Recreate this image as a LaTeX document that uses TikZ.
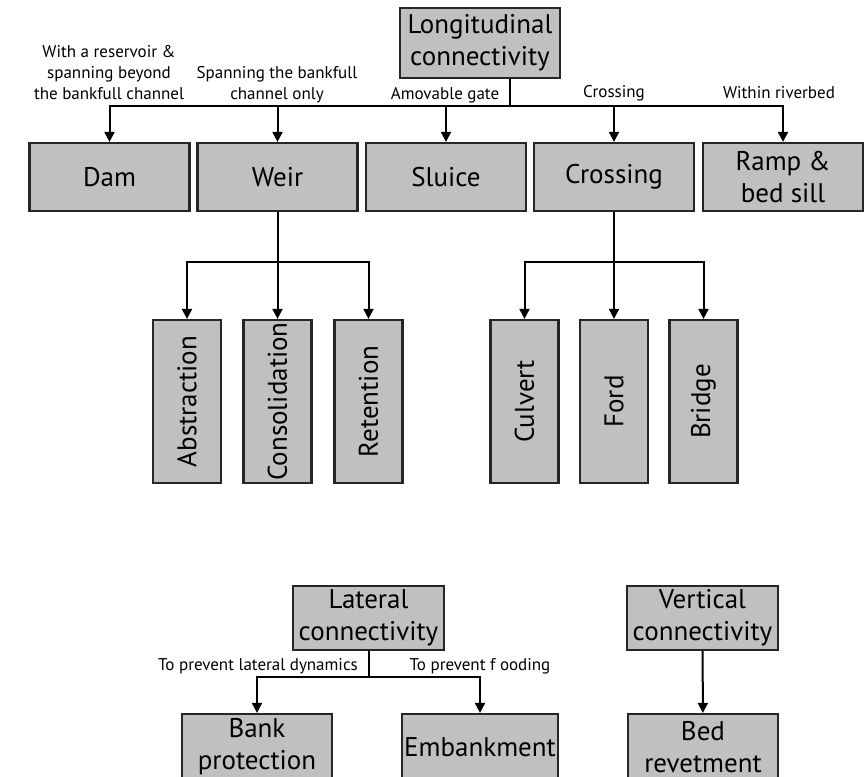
\documentclass[tikz,border=0pt]{standalone}
\usepackage{fontspec}
\setmainfont{PT Sans}
\usepackage{xcolor}
\usetikzlibrary{arrows.meta}

\definecolor{boxgray}{RGB}{192,192,192}

\tikzset{
	box/.style={draw=black!85, fill=boxgray, line width=1.1pt, inner sep=1pt, align=center, font=\fontsize{13.5}{16}\selectfont},
	wide/.style={box, minimum width=160*0.5pt, minimum height=68*0.5pt},
	tall/.style={box, minimum width=68*0.5pt, minimum height=163*0.5pt},
	lbl/.style={align=center, inner sep=0pt, font=\fontsize{8.5}{10.5}\selectfont},
	stem/.style={line width=1pt},
	arr/.style={stem, -{Triangle[length=5pt,width=5pt]}},
}

\begin{document}
\begin{tikzpicture}[x=0.5pt, y=-0.5pt]

			\useasboundingbox (0,0) rectangle (864,777);
			\clip (0,0) rectangle (864,777);

			\node[box, minimum width=80pt, minimum height=35pt] (longi) at (480,43) {Longitudinal\\connectivity};

			\foreach \name/\x/\txt in {dam/109.5/Dam, weir/277.5/Weir, sluice/446/Sluice, crossing/614/Crossing, ramp/783/{Ramp \&\\bed sill}} {
			    \node[wide] (\name) at (\x,177) {\txt};
			}

			\foreach \name/\x/\txt in {abstr/187/Abstraction, consol/277.5/Consolidation, reten/368.5/Retention, culvert/524.5/Culvert, ford/614/Ford, bridge/703.5/Bridge} {
			    \node[tall] (\name) at (\x,401.5) {\rotatebox{90}{\txt}};
			}

			\coordinate (lsplit) at (510,106);
			\draw[stem] (longi.south -| lsplit) -- (lsplit);
			\foreach \name in {dam,weir,sluice,crossing,ramp} {
			    \draw[arr] (lsplit) -| (\name);
			}

			\coordinate (wsplit) at (277.5,262);
			\draw[stem] (weir) -- (wsplit);
			\foreach \name in {abstr,consol,reten} {
			    \draw[arr] (wsplit) -| (\name);
			}

			\coordinate (csplit) at (614,262);
			\draw[stem] (crossing) -- (csplit);
			\foreach \name in {culvert,ford,bridge} {
			    \draw[arr] (csplit) -| (\name);
			}

			\node[lbl] (lres) at (109,73) {With a reservoir \&\\spanning beyond\\the bankfull channel};
			\node[lbl] (lspan) at (277,85) {Spanning the bankfull\\channel only};
			\node[lbl] (lgate) at (445,95) {Amovable gate};
			\node[lbl] (lcross) at (614,93) {Crossing};
			\node[lbl] (lriver) at (779,93) {Within riverbed};

			\node[box, minimum width=151*0.5pt, minimum height=64*0.5pt] (lateral) at (368.5,618) {Lateral\\connectivity};
			\node[box, minimum width=151*0.5pt, minimum height=64*0.5pt] (vertical) at (702.5,618) {Vertical\\connectivity};

			\foreach \name/\x/\txt in {bank/257/{Bank\\protection}, embank/480/Embankment, bedrev/703/{Bed\\revetment}} {
			    \node[box, minimum width=150*0.5pt, minimum height=66*0.5pt] (\name) at (\x,747) {\txt};
			}

			\coordinate (lasplit) at (368.5,677);
			\draw[stem] (lateral) -- (lasplit);
			\draw[arr] (lasplit) -| (bank);
			\draw[arr] (lasplit) -| (embank);
			\draw[arr] (vertical) -- (bedrev);

			\node[lbl] (lprev) at (258,666) {To prevent lateral dynamics};
			\node[lbl] (lflood) at (480,666) {To prevent f ooding};
\end{tikzpicture}
\end{document}
